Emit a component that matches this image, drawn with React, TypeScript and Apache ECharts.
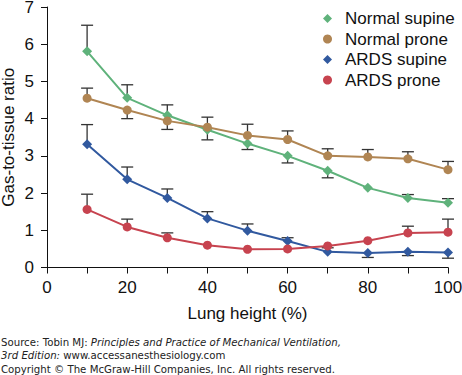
import React, { useEffect, useRef } from "react";
import * as echarts from "echarts";

const heights = [10, 20, 30, 40, 50, 60, 70, 80, 90, 100];
const seriesNames = ["Normal supine", "Normal prone", "ARDS supine", "ARDS prone"];
const normalSupine = [5.81, 4.56, 4.09, 3.7, 3.33, 3.0, 2.6, 2.14, 1.87, 1.74];
const normalProne = [4.55, 4.23, 3.94, 3.77, 3.55, 3.44, 3.0, 2.97, 2.92, 2.63];
const ardsSupine = [3.31, 2.37, 1.87, 1.32, 0.99, 0.71, 0.42, 0.39, 0.42, 0.4];
const ardsProne = [1.56, 1.09, 0.8, 0.6, 0.49, 0.5, 0.58, 0.72, 0.93, 0.95];
// error bar end values (null = no visible bar)
const normalSupineBar = [6.51, 4.91, 4.37, 3.43, 3.17, 2.81, 2.41, null, 1.96, 1.85];
const normalProneBar = [4.82, 4.0, 3.71, 4.04, 3.85, 3.67, 3.19, 3.17, 3.11, 2.85];
const ardsSupineBar = [3.84, 2.7, 2.11, 1.5, 1.17, 0.8, 0.53, 0.27, 0.32, 0.25];
const ardsProneBar = [1.97, 1.3, 0.93, null, null, null, null, null, 1.11, 1.3];
const xLabels = [0, 20, 40, 60, 80, 100];
const yTicks = [0, 1, 2, 3, 4, 5, 6, 7];

const colors = ["#5fb27b", "#b08553", "#31599f", "#c7434f"];
const symbols = ["diamond", "circle", "diamond", "circle"];
const FONT = "Liberation Sans, Arial, Helvetica, sans-serif";
const FOOT_FONT = "DejaVu Sans, Verdana, sans-serif";

export default function App() {
  const ref = useRef<HTMLDivElement>(null);
  useEffect(() => {
    document.body.style.margin = "0";
    const chart = echarts.init(ref.current!, null, { renderer: "svg" });
    const values = [normalSupine, normalProne, ardsSupine, ardsProne];
    const bars = [normalSupineBar, normalProneBar, ardsSupineBar, ardsProneBar];

    const lineSeries = values.map((vals, i) => ({
      name: seriesNames[i],
      type: "line",
      data: heights.map((h, j) => [h, vals[j]]),
      symbol: symbols[i],
      symbolSize: symbols[i] === "diamond" ? 10 : 9,
      itemStyle: { color: colors[i] },
      lineStyle: { color: colors[i], width: 2 },
      z: 3,
    }));

    const errSeries = values.map((vals, i) => ({
      type: "custom",
      z: 2,
      silent: true,
      data: heights
        .map((h, j) => [h, vals[j], bars[i][j]])
        .filter((d) => d[2] !== null),
      renderItem: (params: any, api: any) => {
        const x = api.value(0);
        const p0 = api.coord([x, api.value(1)]);
        const p1 = api.coord([x, api.value(2)]);
        const w = 6;
        const style = { stroke: "#333333", lineWidth: 1.3 };
        return {
          type: "group",
          children: [
            { type: "line", shape: { x1: p0[0], y1: p0[1], x2: p1[0], y2: p1[1] }, style },
            { type: "line", shape: { x1: p1[0] - w, y1: p1[1], x2: p1[0] + w, y2: p1[1] }, style },
          ],
        };
      },
    }));

    const footStyle = { fontFamily: FOOT_FONT, fontSize: 10.2, fill: "#222" };
    const italic = { fontStyle: "italic", fontFamily: FOOT_FONT, fontSize: 10.2, fill: "#222" };

    chart.setOption({
      animation: false,
      textStyle: { fontFamily: FONT },
      grid: { left: 47, right: 14, top: 7, bottom: 107.5, containLabel: false, outerBoundsMode: "none" },
      legend: {
        orient: "vertical",
        left: 318,
        top: 5,
        itemGap: 3.5,
        itemWidth: 9,
        itemHeight: 9,
        selectedMode: false,
        data: seriesNames.map((n, i) => ({ name: n, icon: symbols[i] })),
        textStyle: { fontSize: 17, color: "#111", fontFamily: FONT, padding: [0, 0, 0, 8] },
      },
      xAxis: {
        type: "value",
        min: 0,
        max: 100,
        interval: 10,
        name: "Lung height (%)",
        nameLocation: "middle",
        nameGap: 37,
        nameTextStyle: { fontSize: 17, color: "#111", fontFamily: FONT },
        axisLine: { lineStyle: { color: "#111", width: 1 } },
        axisTick: { length: 6, lineStyle: { color: "#111" } },
        splitLine: { show: false },
        axisLabel: {
          fontSize: 17,
          color: "#111",
          margin: 11,
          fontFamily: FONT,
          formatter: (v: number) => (xLabels.includes(v) ? String(v) : ""),
        },
      },
      yAxis: {
        type: "value",
        min: yTicks[0],
        max: yTicks[yTicks.length - 1],
        interval: 1,
        name: "Gas-to-tissue ratio",
        nameLocation: "middle",
        nameGap: 30.5,
        nameMoveOverlap: false,
        nameTextStyle: { fontSize: 17, color: "#111", fontFamily: FONT, lineHeight: 17 },
        axisLine: { show: true, lineStyle: { color: "#111", width: 1 } },
        axisTick: { show: true, length: 6, lineStyle: { color: "#111" } },
        splitLine: { show: false },
        axisLabel: { fontSize: 17, color: "#111", margin: 13, fontFamily: FONT, lineHeight: 14 },
      },
      series: [...errSeries, ...lineSeries],
      graphic: [
        {
          type: "text",
          left: 1,
          top: 337,
          style: {
            ...footStyle,
            text: "Source: Tobin MJ: {i|Principles and Practice of Mechanical Ventilation,}",
            rich: { i: italic },
          },
        },
        {
          type: "text",
          left: 1,
          top: 350.5,
          style: {
            ...footStyle,
            text: "{i|3rd Edition:} www.accessanesthesiology.com",
            rich: { i: italic },
          },
        },
        {
          type: "text",
          left: 1,
          top: 364.5,
          style: { ...footStyle, text: "Copyright \u00a9 The McGraw-Hill Companies, Inc. All rights reserved." },
        },
      ],
    });
    return () => chart.dispose();
  }, []);
  return <div ref={ref} style={{ position: "absolute", left: 0, top: 0, width: 462, height: 375 }} />;
}
